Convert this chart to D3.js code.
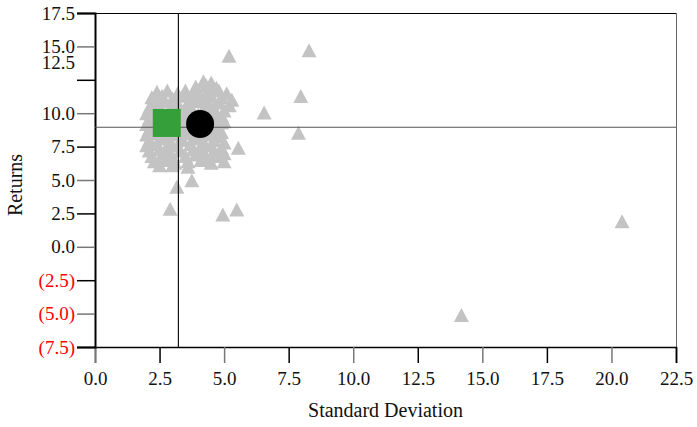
<!DOCTYPE html>
<html><head><meta charset="utf-8">
<script src="https://cdn.jsdelivr.net/npm/d3@7"></script>
<style>
html,body{margin:0;padding:0;background:#fff;}
svg{display:block;font-family:"Liberation Serif","Times New Roman",serif;}
</style></head>
<body>
<svg id="chart" width="697" height="427"></svg>
<script>
// ---- data ----
const xTicks = [0, 2.5, 5, 7.5, 10, 12.5, 15, 17.5, 20, 22.5];
const yTicks = [-7.5, -5, -2.5, 0, 2.5, 5, 7.5, 10, 12.5, 15, 17.5];
const xTitle = "Standard Deviation";
const yTitle = "Returns";
// fund points: [standard deviation, return]
const funds = [
 [4.2,12.4],[4.5,12.3],
 [3.9,12.0],[4.3,12.1],[4.7,11.9],
 [2.4,11.6],[2.8,11.7],[3.2,11.5],[3.5,11.7],[3.9,11.6],[4.3,11.5],[4.8,11.7],[5.1,11.5],
 [2.2,11.2],[2.6,11.3],[3.0,11.1],[3.4,11.3],[3.8,11.2],[4.1,11.1],[4.5,11.3],[4.9,11.2],[5.3,11.0],
 [2.3,10.8],[2.7,10.9],[3.1,10.7],[3.6,10.8],[4.0,10.9],[4.4,10.7],[4.8,10.8],[5.2,10.6],
 [2.1,10.4],[2.5,10.5],[2.9,10.3],[3.3,10.4],[3.7,10.5],[4.2,10.3],[4.6,10.4],[5.0,10.2],
 [2.0,10.0],[2.4,10.1],[2.8,9.9],[3.2,10.0],[3.6,10.1],[4.0,9.9],[4.5,10.0],[4.9,9.8],
 [2.1,9.6],[2.5,9.7],[3.0,9.5],[3.5,9.6],[4.3,9.5],[4.7,9.6],[5.0,9.4],
 [2.0,9.2],[2.3,9.1],[3.3,9.2],[3.6,9.0],[4.7,9.1],[4.9,9.3],
 [2.1,8.8],[2.5,8.9],[2.9,8.7],[3.3,8.8],[3.8,8.7],[4.2,8.9],[4.6,8.8],[4.9,8.6],
 [2.0,8.4],[2.4,8.5],[2.8,8.3],[3.2,8.4],[3.6,8.5],[4.0,8.3],[4.4,8.4],[4.7,8.3],
 [2.1,8.0],[2.5,8.1],[2.9,7.9],[3.4,8.0],[3.8,8.1],[4.2,7.9],[4.6,8.0],[5.0,7.8],
 [2.0,7.6],[2.4,7.7],[2.8,7.5],[3.2,7.6],[3.7,7.7],[4.1,7.5],[4.5,7.6],[4.9,7.4],
 [2.1,7.2],[2.5,7.3],[2.9,7.1],[3.3,7.2],[3.8,7.3],[4.2,7.1],[4.6,7.2],[5.0,7.0],
 [2.2,6.8],[2.6,6.9],[3.0,6.7],[3.5,6.8],[3.9,6.9],[4.3,6.7],[4.7,6.8],
 [2.3,6.4],[2.7,6.5],[3.1,6.3],[3.6,6.4],[4.1,6.5],[4.5,6.3],[5.0,6.4],
 [2.5,6.1],[3.0,6.1],[3.6,6.0],
 [5.19,14.3],[8.29,14.72],[7.97,11.29],[6.55,10.05],[7.88,8.54],[5.55,7.42],
 [2.91,2.84],[4.95,2.41],[5.49,2.79],[3.17,4.49],[3.75,4.99],
 [14.19,-5.1],[20.41,1.91]
];
const benchmarkSquare = [2.78, 9.27];
const benchmarkCircle = [4.07, 9.19];
const refLineX = 3.23;
const refLineY = 8.95;

// ---- layout ----
const svg = d3.select("#chart");
const L = 95, T = 13, W = 581, H = 334;
const x = d3.scaleLinear().domain([0, 22.5]).range([L, L + W]);
const y = d3.scaleLinear().domain([-7.5, 17.5]).range([T + H, T]);
const fmt = v => v < 0 ? "(" + Math.abs(v).toFixed(1) + ")" : v.toFixed(1);

// frame
svg.append("line").attr("x1", L).attr("x2", L + W).attr("y1", T + 0.5).attr("y2", T + 0.5)
  .attr("stroke", "#000").attr("stroke-width", 1);
svg.append("line").attr("x1", L + W + 0.5).attr("x2", L + W + 0.5).attr("y1", T).attr("y2", T + H)
  .attr("stroke", "#666").attr("stroke-width", 1);

// x axis
const xAxis = d3.axisBottom(x).tickValues(xTicks).tickFormat(fmt).tickSize(16).tickPadding(9);
const gx = svg.append("g").attr("transform", `translate(0,${T + H})`).call(xAxis);
gx.select(".domain").attr("stroke", "#000").attr("stroke-width", 1.5);
gx.selectAll(".tick line").attr("stroke", (d, i) => i % 2 === 0 ? "#777" : "#000").attr("stroke-width", 1.5);
gx.selectAll(".tick text").attr("font-size", 19).attr("fill", "#111")
  .attr("font-family", "Liberation Serif, Times New Roman, serif");

// y axis
const yAxis = d3.axisLeft(y).tickValues(yTicks).tickFormat(fmt).tickSize(18).tickPadding(2);
const gy = svg.append("g").attr("transform", `translate(${L},0)`).call(yAxis);
gy.select(".domain").attr("stroke", "#000").attr("stroke-width", 2);
gy.selectAll(".tick line").attr("stroke", (d, i) => i % 2 === 0 ? "#000" : "#777").attr("stroke-width", 1.5);
gy.selectAll(".tick text").attr("font-size", 19)
  .attr("font-family", "Liberation Serif, Times New Roman, serif")
  .attr("fill", d => d < 0 ? "#ff0000" : "#111")
  .attr("dy", d => d === 12.5 ? "-0.6em" : "0.32em");

// titles
svg.append("text").attr("x", L + W / 2).attr("y", 417).attr("text-anchor", "middle")
  .attr("font-size", 20).attr("fill", "#111").text(xTitle);
svg.append("text").attr("transform", `translate(22,${T + H / 2 + 5}) rotate(-90)`)
  .attr("text-anchor", "middle").attr("font-size", 20).attr("fill", "#111").text(yTitle);

// triangles
const tri = "M0,-7L7.5,7L-7.5,7Z";
svg.append("g").selectAll("path").data(funds).join("path")
  .attr("d", tri)
  .attr("transform", d => `translate(${x(d[0])},${y(d[1])})`)
  .attr("fill", "#c3c3c3");

// reference lines
svg.append("line").attr("x1", L).attr("x2", L + W).attr("y1", y(refLineY)).attr("y2", y(refLineY))
  .attr("stroke", "#555").attr("stroke-width", 1.2);
svg.append("line").attr("x1", x(refLineX)).attr("x2", x(refLineX)).attr("y1", T).attr("y2", T + H)
  .attr("stroke", "#111").attr("stroke-width", 1.2);

// benchmarks
svg.append("rect").attr("x", x(benchmarkSquare[0]) - 14).attr("y", y(benchmarkSquare[1]) - 14)
  .attr("width", 28).attr("height", 28).attr("fill", "#35a03a");
svg.append("circle").attr("cx", x(benchmarkCircle[0])).attr("cy", y(benchmarkCircle[1]))
  .attr("r", 14).attr("fill", "#000");
</script>
</body></html>
